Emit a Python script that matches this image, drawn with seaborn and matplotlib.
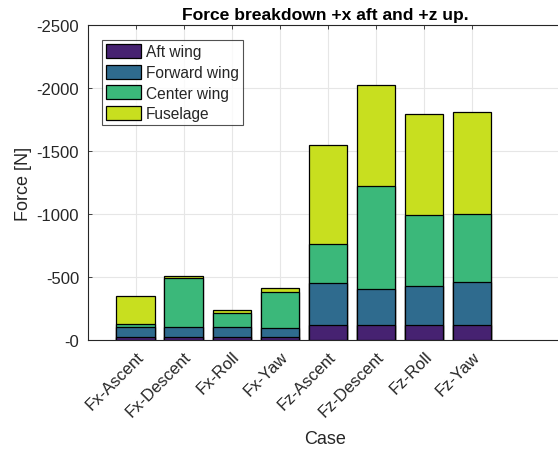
import matplotlib
matplotlib.use("Agg")
import matplotlib.pyplot as plt
import seaborn as sns
import pandas as pd
import numpy as np

cases = ["Fx-Ascent", "Fx-Descent", "Fx-Roll", "Fx-Yaw",
         "Fz-Ascent", "Fz-Descent", "Fz-Roll", "Fz-Yaw"]
aft_wing = [-20, -20, -20, -20, -119, -117, -117, -119]
forward_wing = [-80, -83, -83, -77, -331, -288, -309, -339]
center_wing = [-24, -387, -109, -286, -309, -820, -566, -539]
fuselage = [-226, -20, -28, -28, -786, -800, -803, -813]

components = ["Aft wing", "Forward wing", "Center wing", "Fuselage"]
colors = ["#462271", "#2F6B8E", "#3BB87A", "#C8DF1F"]
yticks = [0, -500, -1000, -1500, -2000, -2500]
ytick_labels = ["-0", "-500", "-1000", "-1500", "-2000", "-2500"]

sns.set_theme(style="white")
plt.rcParams["font.family"] = ["Liberation Sans", "DejaVu Sans"]

df = pd.DataFrame({"Case": cases, "Aft wing": aft_wing, "Forward wing": forward_wing,
                   "Center wing": center_wing, "Fuselage": fuselage})
cum = df[components].cumsum(axis=1)

fig = plt.figure(figsize=(5.58, 4.52), dpi=100)
ax = fig.add_axes([87.5 / 558, 1 - 341 / 452, 1 - 87.5 / 558 + 0.01, (341 - 26) / 452])

# draw cumulative totals from the top layer down so each stack shows
for comp, col in reversed(list(zip(components, colors))):
    sns.barplot(x=df["Case"], y=cum[comp], color=col, ax=ax, width=0.8,
                edgecolor="black", linewidth=0.9, saturation=1, label=comp, zorder=3)

ax.set_xlim(-1, 8.9)
ax.set_ylim(0, -2500)
ax.set_yticks(yticks)
ax.set_yticklabels(ytick_labels, fontsize=12, color="#262626")
ax.set_xticks(range(len(cases)))
ax.set_xticklabels(cases, rotation=45, ha="right", rotation_mode="anchor",
                   fontsize=12, color="#262626")
ax.grid(True, color="#e6e6e6", linewidth=0.8, zorder=0)
ax.set_axisbelow(True)
ax.tick_params(direction="in", length=3, width=0.6, colors="#262626",
               top=True, right=True, bottom=True, left=True, pad=6)
for s in ax.spines.values():
    s.set_color("#262626")
    s.set_linewidth(0.8)
ax.set_xlabel("Case", fontsize=13, color="#262626", labelpad=8)
ax.set_ylabel("Force [N]", fontsize=13, color="#262626", labelpad=3)
ax.set_title("Force breakdown +x aft and +z up.", fontsize=12.6, fontweight="bold",
             color="black", pad=4)

handles, labels = ax.get_legend_handles_labels()
order = [labels.index(c) for c in components]
leg = ax.legend([handles[i] for i in order], [labels[i] for i in order],
                loc="upper left", bbox_to_anchor=(0.03, 0.952), fontsize=11.2,
                frameon=True, fancybox=False, edgecolor="#262626",
                handlelength=2.3, handleheight=1.0, handletextpad=0.3,
                labelspacing=0.35, borderpad=0.25, borderaxespad=0)
leg.get_frame().set_linewidth(0.8)

fig.savefig("out.png", dpi=100)
